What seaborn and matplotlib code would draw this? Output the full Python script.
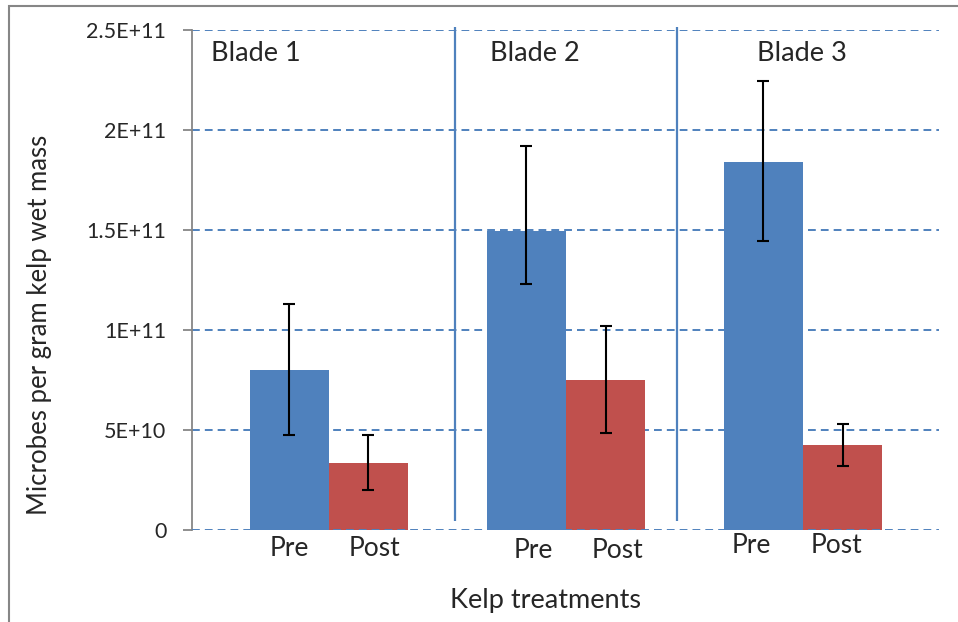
import numpy as np
import pandas as pd
import matplotlib
matplotlib.use("Agg")
import matplotlib.pyplot as plt
import seaborn as sns

# Chart data
blades = ["Blade 1", "Blade 2", "Blade 3"]
treatments = ["Pre", "Post"]
pre_values = [8.0e10, 1.495e11, 1.84e11]
post_values = [3.35e10, 7.5e10, 4.25e10]
pre_err_low = [4.75e10, 1.23e11, 1.445e11]
pre_err_high = [1.13e11, 1.92e11, 2.245e11]
post_err_low = [2.0e10, 4.85e10, 3.2e10]
post_err_high = [4.75e10, 1.02e11, 5.3e10]
y_ticks = [0, 5e10, 1e11, 1.5e11, 2e11, 2.5e11]
y_tick_labels = ["0", "5E+10", "1E+11", "1.5E+11", "2E+11", "2.5E+11"]

BLUE = "#4F81BD"
RED = "#C0504D"
GREY = "#868686"

sns.set_style("white")
plt.rcParams["font.family"] = ["Lato", "DejaVu Sans"]

df = pd.DataFrame({
    "blade": blades * 2,
    "treatment": ["Pre"] * 3 + ["Post"] * 3,
    "value": pre_values + post_values,
})

fig = plt.figure(figsize=(9.58, 6.22), dpi=100)
ax = fig.add_axes([0.2004, 0.1479, 0.7798, 0.8039])

bar_w = 0.667
sns.barplot(data=df, x="blade", y="value", hue="treatment", hue_order=treatments,
            palette=[BLUE, RED], width=bar_w, errorbar=None, saturation=1,
            linewidth=0, legend=False, ax=ax, zorder=3)

# error bars (asymmetric)
x = np.arange(len(blades))
half = bar_w / 4
for vals, lo, hi, off in [(pre_values, pre_err_low, pre_err_high, -half),
                          (post_values, post_err_low, post_err_high, half)]:
    vals = np.array(vals)
    yerr = [vals - np.array(lo), np.array(hi) - vals]
    ax.errorbar(x + off, vals, yerr=yerr, fmt="none", ecolor="black",
                elinewidth=1.5, capsize=4.3, capthick=1.5, zorder=4)

ax.set_ylim(0, 2.5e11)
ax.set_xlim(-0.578, 2.574)
ax.set_yticks(y_ticks)
ax.set_yticklabels(y_tick_labels, fontsize=15.5)
ax.set_xticks([])
ax.set_xlabel("Kelp treatments", fontsize=19.5, va="top")
ax.xaxis.set_label_coords(0.4726, -0.115)
ax.set_ylabel("Microbes per gram kelp wet mass", fontsize=18.5)
ax.yaxis.set_label_coords(-0.187, 0.41)

# dashed gridlines, Excel-like
for t in y_ticks:
    ax.axhline(t, color=BLUE, linestyle=(0, (4, 2.6)), linewidth=1.4,
               zorder=5 if t == 0 else 1)

for s in ["top", "right", "bottom"]:
    ax.spines[s].set_visible(False)
ax.spines["left"].set_color(GREY)
ax.spines["left"].set_linewidth(1.3)
ax.tick_params(axis="y", length=6.5, width=1.3, color=GREY, pad=12, left=True)

# separators between blades
for sx in [0.532, 1.468]:
    ax.vlines(sx, 4.5e9, 2.515e11, color=BLUE, linewidth=1.6, clip_on=False, zorder=2)

# blade labels
for bx, lab in zip([-0.308, 0.869, 1.995], blades):
    ax.text(bx, 2.38e11, lab, fontsize=19.5, ha="center", va="center")

# Pre/Post text boxes under each pair (placed by hand in the original)
pre_dx = [-0.169, -0.139, -0.219]
post_dx = [0.194, 0.219, 0.143]
label_y = [-0.9e10, -1.0e10, -0.75e10]
for i in range(len(blades)):
    ax.text(x[i] + pre_dx[i], label_y[i], "Pre", fontsize=19, ha="center", va="center")
    ax.text(x[i] + post_dx[i], label_y[i], "Post", fontsize=19, ha="center", va="center")

# chart area border
fig.add_artist(plt.Rectangle((9 / 958, -0.1), 1.2, 1.1 - 6 / 622, transform=fig.transFigure,
                             fill=False, edgecolor=GREY, linewidth=1.5))

fig.savefig("out.png", dpi=100)
